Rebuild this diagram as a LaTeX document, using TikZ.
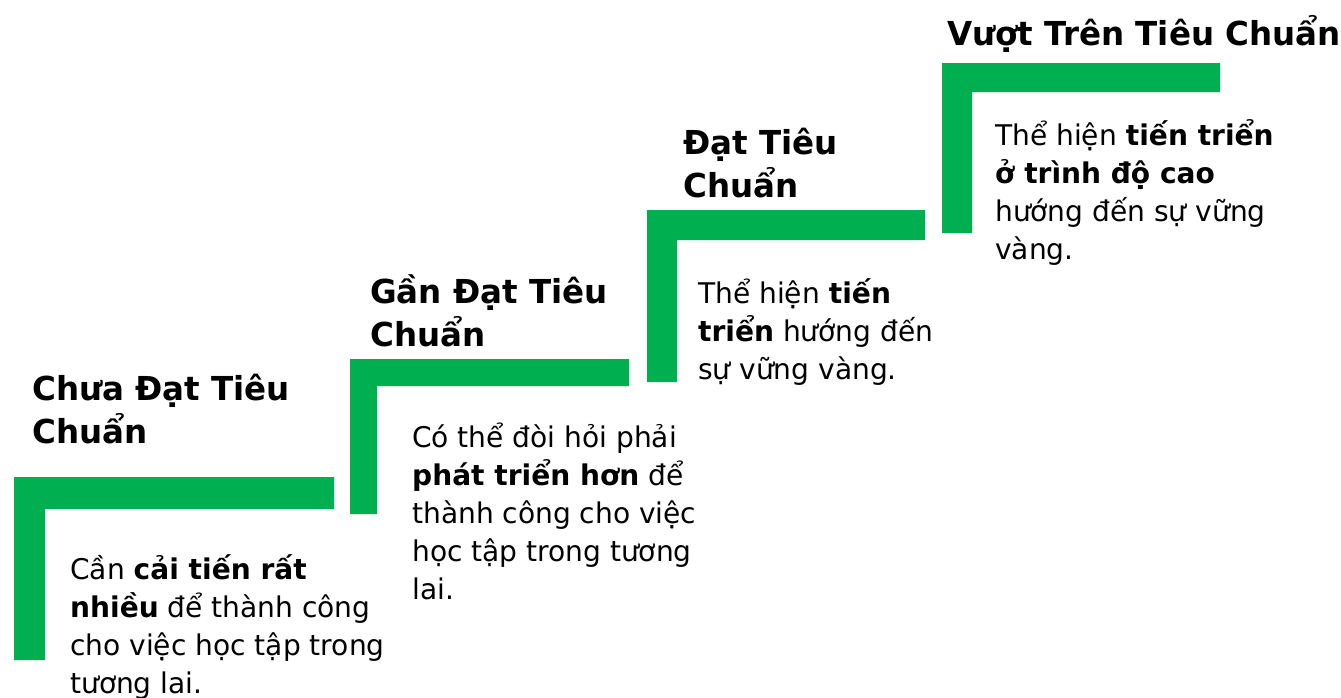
\documentclass[tikz,border=0pt]{standalone}
\usepackage{fontspec}
\setmainfont{DejaVu Sans}[FakeStretch=0.985]
\definecolor{stepgreen}{HTML}{00B050}
\tikzset{
  bar/.style={fill=stepgreen, draw=none},
  title/.style={anchor=base west, align=left, inner sep=0pt, font=\fontsize{33}{42.5}\selectfont\bfseries},
  body/.style={anchor=base west, align=left, inner sep=0pt, font=\fontsize{28.5}{38}\selectfont}
}
\begin{document}
\begin{tikzpicture}[x=1pt,y=-1pt]
\useasboundingbox (0,0) rectangle (1341,697);
% green steps
\fill[bar] (14,477) -- (334,477) -- (334,509) -- (45,509) -- (45,660) -- (14,660) -- cycle;
\fill[bar] (350,359) -- (629,359) -- (629,386) -- (377,386) -- (377,514) -- (350,514) -- cycle;
\fill[bar] (647,210) -- (925,210) -- (925,240) -- (677,240) -- (677,382) -- (647,382) -- cycle;
\fill[bar] (942,63) -- (1220,63) -- (1220,92) -- (972,92) -- (972,233) -- (942,233) -- cycle;
% titles (anchored at the baseline of their last line)
\node[title] (t1) at (32,443) {Chưa Đạt Tiêu\\Chuẩn};
\node[title] (t2) at (370,346) {Gần Đạt Tiêu\\Chuẩn};
\node[title] (t3) at (683,197) {Đạt Tiêu\\Chuẩn};
\node[title] (t4) at (947,45) {Vượt Trên Tiêu Chuẩn};
% bodies (anchored at the baseline of their last line)
\node[body] (b1) at (70,693) {Cần \textbf{cải tiến rất}\\\textbf{nhiều} để thành công\\cho việc học tập trong\\tương lai.};
\node[body] (b2) at (412,599) {Có thể đòi hỏi phải\\\textbf{phát triển hơn} để\\thành công cho việc\\học tập trong tương\\lai.};
\node[body] (b3) at (698,379) {Thể hiện \textbf{tiến}\\\textbf{triển} hướng đến\\sự vững vàng.};
\node[body] (b4) at (995,259) {Thể hiện \textbf{tiến triển}\\\textbf{ở trình độ cao}\\hướng đến sự vững\\vàng.};
\end{tikzpicture}
\end{document}
